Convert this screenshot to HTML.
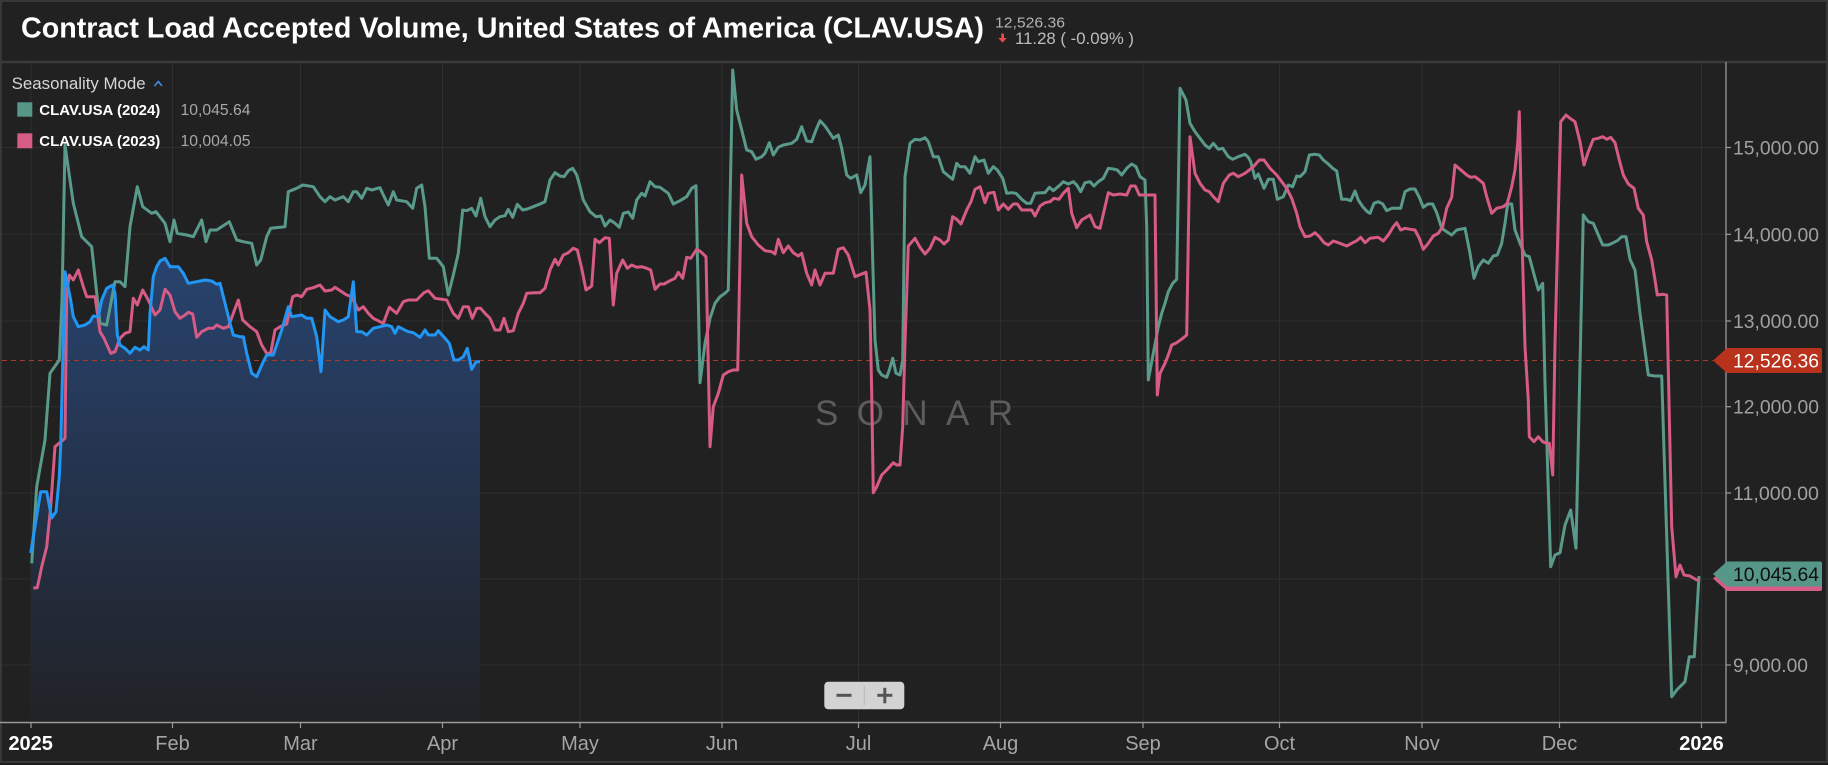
<!DOCTYPE html>
<html>
<head>
<meta charset="utf-8">
<style>
  html, body { margin:0; padding:0; background:#1c1c1c; }
  body { width:1828px; height:765px; overflow:hidden; }
  svg { display:block; }
  text { font-family: "Liberation Sans", "DejaVu Sans", sans-serif; }
</style>
</head>
<body>
<svg width="1828" height="765" viewBox="0 0 1828 765" xmlns="http://www.w3.org/2000/svg">
  <defs>
    <linearGradient id="bf" gradientUnits="userSpaceOnUse" x1="0" y1="250" x2="0" y2="722">
      <stop offset="0" stop-color="#284470"/>
      <stop offset="1" stop-color="#212226"/>
    </linearGradient>
  </defs>

  <!-- background / frame -->
  <rect x="0" y="0" width="1828" height="765" fill="#1c1c1c"/>
  <rect x="1" y="1" width="1826" height="761" fill="#212121" stroke="#383838" stroke-width="2"/>
  <line x1="1" y1="62" x2="1827" y2="62" stroke="#3a3a3a" stroke-width="2.5"/>

  <!-- header -->
  <text x="21" y="37.5" font-size="28.5" font-weight="bold" fill="#ffffff" textLength="963" lengthAdjust="spacingAndGlyphs">Contract Load Accepted Volume, United States of America (CLAV.USA)</text>
  <text x="995" y="27.5" font-size="15" fill="#b3b3b3" textLength="70" lengthAdjust="spacingAndGlyphs">12,526.36</text>
  <rect x="1001.2" y="33.5" width="2.8" height="5" fill="#e5484d"/>
  <polygon points="998.3,38 1006.7,38 1002.6,42.8" fill="#e5484d"/>
  <text x="1015" y="44" font-size="16.5" fill="#bdbdbd" textLength="119" lengthAdjust="spacingAndGlyphs">11.28 ( -0.09% )</text>

  <!-- grid -->
  <g stroke="#2f2f2f" stroke-width="1">
    <line x1="2" y1="147.5" x2="1726" y2="147.5"/>
    <line x1="2" y1="234.3" x2="1726" y2="234.3"/>
    <line x1="2" y1="321" x2="1726" y2="321"/>
    <line x1="2" y1="406.7" x2="1726" y2="406.7"/>
    <line x1="2" y1="493" x2="1726" y2="493"/>
    <line x1="2" y1="579" x2="1726" y2="579"/>
    <line x1="2" y1="665" x2="1726" y2="665"/>
    <line x1="31" y1="63" x2="31" y2="722"/>
    <line x1="172.5" y1="63" x2="172.5" y2="722"/>
    <line x1="300.5" y1="63" x2="300.5" y2="722"/>
    <line x1="442.5" y1="63" x2="442.5" y2="722"/>
    <line x1="580" y1="63" x2="580" y2="722"/>
    <line x1="722" y1="63" x2="722" y2="722"/>
    <line x1="858.5" y1="63" x2="858.5" y2="722"/>
    <line x1="1000.5" y1="63" x2="1000.5" y2="722"/>
    <line x1="1143" y1="63" x2="1143" y2="722"/>
    <line x1="1279.5" y1="63" x2="1279.5" y2="722"/>
    <line x1="1422" y1="63" x2="1422" y2="722"/>
    <line x1="1559.5" y1="63" x2="1559.5" y2="722"/>
    <line x1="1701.5" y1="63" x2="1701.5" y2="722"/>
  </g>

  <!-- watermark -->
  <text x="815" y="425" font-size="35" fill="#5c5c5c" textLength="198" lengthAdjust="spacing">SONAR</text>

  <!-- blue area -->
  <polygon fill="url(#bf)" points="30.7,722 30.7,553 40.7,491.7 46.7,491.7 51.7,518 56,511.7 59.3,476.7 60.7,445 65,271.7 70.7,300 73.3,316.7 78.3,326.7 85,325 90,321.7 93.3,316 98.3,316.7 101.7,300 106.7,288.3 112.7,285 115,293.3 117.3,335 120,345 125,348.3 130,353.3 135,347.3 140,350 144,346.7 148.3,350 150,313.3 153.3,276.7 156.7,266.7 160,261 165,258.3 170,266.7 178.3,266.7 183.3,273.3 188.3,283.3 196.7,281.7 205,280 211.7,281 216.7,284.3 220,283.3 225,303.3 230,323.3 233.3,335 240,336.7 243.3,336.7 246.7,353.3 251.7,373.3 256.7,376.7 263.3,361.7 266.7,355 273.3,355 281.7,330 288.3,306.7 291.7,316.7 301.7,315 306.7,318.3 311.7,318.3 316.7,336.7 321,371.7 325,310 330,316.7 338.3,321.7 343.3,320 348.3,316.7 353.3,281.7 356.7,331.7 361.7,331.7 366.7,335 373.3,328.3 380,326.7 386.7,325 391.7,326.7 395,333.3 398.3,326.7 403.3,329.3 408.3,331.7 413.3,332.7 420,337.3 425,330 428.3,335 435,335 438.3,330.7 445,338.3 449.3,343.3 454,360 458.3,360 463.3,356.7 467.3,348.3 471.7,369.3 476,361.7 480,361.7 480,722"/>

  <!-- dashed last value line -->
  <line x1="2" y1="360.5" x2="1713" y2="360.5" stroke="#a83a2a" stroke-width="1" stroke-dasharray="5,4"/>

  <!-- green 2024 -->
  <polyline fill="none" stroke="#5a9a8b" stroke-width="3" stroke-linejoin="round" points="31.7,563.3 36.7,486.7 45,440 50,373.3 59.3,360 62,300 65,145 73.3,203.3 81.7,236.7 91.7,246.7 100,323.3 106.7,325 115,281.7 120,281.7 125,286.7 130,226.7 137.3,186.7 142.7,206.7 151.7,213.3 156,211.7 165,223.3 170,241.7 174,220 177.3,233.3 186.7,235 193.3,236.7 201.7,220 206,241.7 210,230 216.7,230 229.3,221.7 236.7,240 243.3,241.7 251.7,243.3 256.7,265 260.7,260 266.7,236.7 270.7,228.3 285,226.7 288.3,191.7 296.7,188.3 302.7,185 313.3,186.7 320,196.7 325,201.7 330,196.7 335,200 343.3,196.7 348.3,201.7 353.3,191.7 356.7,191.7 361.7,198.3 366.7,188.3 371.7,190 380,187.7 383.3,195 388.3,205 393.3,191.7 396.7,200 406.7,201.7 412.7,208.3 416.7,188.3 421.7,185 425,206.7 429.3,258.3 436.7,258.3 443.3,266.7 448.3,295 453.3,275 458.3,253.3 462.7,210 466.7,210.7 471.7,208.3 476,216 480.7,198.3 485,216.7 490,226.7 495,220 500,216.7 505,215.7 508.3,209.3 512.7,217.3 517.3,204.3 522.7,210 527.3,209 533.3,206.7 540,204 545,201.7 550,180 555,172.7 560,176 564,176.7 568.3,170.7 572.7,168.3 576.7,175 580,186.7 583.3,200 590,211.7 596,216.7 601,216 605,226 610,220 615,223.3 619.3,227.3 623.3,213.3 628.3,212 632.7,218.3 636.7,200 641.7,193.3 645,196 650,181.7 655,186.7 660,187.3 668.3,193.3 673.3,204 680,200.7 686.7,196.7 691.7,188.3 696,185.7 700,382.7 705,343.3 710,318.3 715,303.3 720,296.7 725,293.3 728.3,290 732.7,70 736.7,110 741.7,130 746.7,150 751.7,151.7 756,159.3 761.7,156.7 765,153.3 769.3,142.7 773.3,155 778.3,147.3 783.3,145 791.7,143.3 796.7,139.3 801.7,126.7 806.7,141 811.7,141.7 816,130 820,120.7 825,126 830,133.3 833.3,138.3 838.3,135 841.7,148.3 846.7,175 850.7,178.3 856.7,175 860.7,192.7 865,185 867.3,171.7 870,156.7 872.7,260 875,340 878.3,370 881.7,375 886.7,377.3 889.3,370 892.7,358.3 896,373.3 900,375 902.7,360 905,176.7 910,143.3 915,139.3 920,140 925,137.7 928.3,141.7 933.3,156.7 938.3,156.7 943.3,171.7 947.3,175 952.7,179.3 956.7,163.3 960,166.7 965,166.7 970,173.3 975,156.7 978.3,161.7 984,160 988.3,173.3 993.3,166.7 997.3,170 1002.7,178.3 1006.7,193.3 1011.7,192.7 1016,193.3 1021.7,199.3 1026.7,203.3 1030.7,203.3 1035,193.3 1041.7,192.7 1045,192.7 1049.3,187.3 1053.3,190.7 1060,185 1063.3,181.7 1068.3,184 1073.3,181.7 1076.7,185 1080.7,191.7 1085,182.7 1090,181.7 1094,186 1098.3,181.7 1103.3,178.3 1108.3,168.3 1113.3,169 1117.3,170 1121.7,175 1126.7,168.3 1131.7,164 1136,166.7 1140,176.7 1145,180 1146.7,226.7 1148.3,380 1153.3,353.3 1158.3,326.7 1161.7,313.3 1165,303.3 1168.3,291.7 1172.7,283.3 1176.7,279.3 1180,88.3 1186,100 1190,123.3 1195,131.7 1200,138.3 1205,145 1209.3,148.3 1213.3,143.3 1218.3,149.3 1222.7,148.3 1228.3,156.7 1232.7,159.3 1238.3,156.7 1245,154.3 1248.3,157.3 1250.7,161.7 1255,178.3 1258.3,174 1264,188.3 1268.3,179.3 1273.3,179.3 1277.3,199.3 1283.3,196.7 1288.3,185 1292.7,186.7 1296.7,176 1300,176.7 1305,171.7 1309.3,155 1315,154.3 1319.3,155 1323.3,160 1328.3,164 1332.7,168.3 1336.7,171 1340,190 1341.7,199.3 1346.7,199.3 1350.7,200.7 1355,191 1358.3,200 1362.7,206.7 1367.3,211.7 1370,213.3 1374,203.3 1378.3,201.7 1382.7,204 1386.7,210.7 1391.7,208.3 1400.7,208.3 1405,191.7 1410,189 1415,189 1419.3,197.3 1423.3,207.3 1427.7,204 1432.7,204 1436.7,212.7 1441.7,228.3 1446.7,231.7 1451.7,235 1456.7,230 1465,228.3 1470,253.3 1474,278.3 1478.3,266.7 1483.3,260 1488.3,263.3 1493.3,256 1497.3,255 1501.7,243.3 1505,223.3 1507.7,204 1511.7,204 1515,230 1520,243.3 1525,255 1529.3,256.7 1533.3,271.7 1538.3,290 1542.7,283.3 1545,383.3 1550.7,566.7 1555,555 1560,552.7 1565,525 1570.7,510 1576,548.3 1583.3,215 1588.3,221.7 1593.3,223.3 1598.3,235 1602.7,245 1608.3,245 1613.3,242.7 1617.3,240.7 1621.7,236.7 1626,236.7 1630,259.3 1635,270 1640,313.3 1648.3,375 1655,376 1661.7,376 1671.7,696.7 1676.7,690 1685,681.7 1689.3,656.7 1694.3,656.7 1699,576"/>

  <!-- pink 2023 -->
  <polyline fill="none" stroke="#d65b85" stroke-width="3" stroke-linejoin="round" points="33.3,588 37.3,587.7 41.7,566.7 46.7,546.7 50.7,506.7 55,446.7 65,438.3 66.7,293.3 69.3,275 73.3,280 78.3,270 83.3,286.7 86.7,296.7 95,296.7 100,331.7 104,338.3 110.7,353.3 115,351.7 120,338.3 125,333.3 130,331.7 133.3,298.3 137.3,305 142.7,290 148.3,300 155,315 160,310 165,289.3 170,295 175,311.7 180,318.3 185,315 188.3,312.3 192.7,314 196.7,337.3 201.7,331.7 208.3,328.3 213.3,328.3 216.7,325 223.3,328.3 228.3,326.7 238.3,300 242.7,320 250,326.7 256.7,331.7 261.7,345 266.7,353.3 270.7,353.3 275,330 280,326.7 286.7,324 292.7,296.7 296.7,295 301.7,296.7 306.7,289.3 313.3,287.7 320,285 325,291 331.7,290 335,287.3 341.7,291.7 346.7,295 351.7,296.7 358.3,310 363.3,306.7 368.3,313.3 373.3,318.3 383.3,323.3 389.3,307.3 396.7,313.3 403.3,301.7 408.3,300 416.7,300 424,292.7 428.3,290.7 435,298.3 446.7,300 453.3,313.3 458.3,318.3 463.3,306.7 468.3,306.7 472.3,318.3 476.7,308.3 480.7,308.3 485,313.3 490,318.3 495,330 500,330 504,318.3 508.3,331.7 513.3,330.7 518.3,313.3 523.3,303.3 526.7,293.3 535,292.7 540,292.7 545,288.3 550,270 555,259.3 558.3,265 563.3,255 568.3,252.7 573.3,248.3 577.3,250 581.7,268.3 586,290 591.7,286 595,239.3 599.3,242.7 605,237.7 609.3,238.3 613.3,305 616.7,273.3 622.7,260 627.3,268.3 631.7,265 636.7,267.3 641.7,266.7 646.7,268.3 650.7,270 655,289.3 660,284 664,284 670,280.7 675,278.3 678.3,272.3 682.7,278.3 686.7,257.3 690.7,258.3 696.7,249.3 700.7,251.7 706,256.7 710,446.7 713.3,406.7 718.3,393.3 723.3,375 728.3,371.7 733.3,370 737.7,370 741.7,175 746.7,223.3 751.7,236.7 758.3,245 765,250.7 771.7,251.7 775,254 778.3,239.3 783.3,252.7 788.3,246 793.3,252.7 798.3,256 801.7,253.3 806.7,273.3 811.7,285 815,270 820,285 825,273.3 833.3,273.3 838.3,249.3 843.3,247.7 848.3,255 855,276.7 866,272.3 870,310 871.7,393.3 873.3,492.7 876.7,486.7 881.7,475 886.7,470 893.3,462.7 896.7,465 900,465 902.7,426.7 905,343.3 908.3,246 915,238.3 920,247.3 925,254 930,248.3 935,237.3 940,240 944,244 948.3,240 952.7,216.7 956.7,219.3 961,224 966.7,210 971,201.7 975,189.3 980,186.7 985,202.7 988.3,193.3 994,192.3 998.3,210 1003.3,204 1008.3,209.3 1013.3,204 1017.3,204 1021.7,210 1031.7,210 1035,216 1040,206 1045,202.7 1050,201.7 1054,198.3 1059,199.3 1063.3,193.3 1068.3,188.3 1071.7,213.3 1076.7,227.7 1081.7,220 1090,215 1095,226.7 1100,228.3 1108.3,192.7 1113.3,195 1120,194 1126.7,195 1130.7,186 1135.3,186 1139.3,195 1155,195 1157.3,395 1160,373.3 1165,363.3 1168.3,355 1171.7,345 1176.7,342.7 1182.7,338.3 1186.7,335 1190,136.7 1195,173.3 1200,183.3 1205,190 1209.3,191.7 1213.3,196.7 1218.3,201.7 1223.3,183.3 1229.3,175 1233.3,173.3 1238.3,176.7 1245,173.3 1249.3,170 1253.3,166.7 1259.3,160 1264,160 1270,168.3 1276.7,175 1281.7,181.7 1286.7,188.3 1291.7,198.3 1296.7,213.3 1300,226.7 1305,236.7 1310,236 1315,232.7 1319.3,236.7 1324,242.7 1328.3,245 1333.3,241 1338.3,242.7 1346.7,246 1351.7,243.3 1356.7,240.7 1360.7,237.3 1365,242.7 1370,238.3 1378.3,237.3 1383.3,241 1388.3,235 1393.3,226.7 1396.7,222.7 1400.7,230 1405,228.3 1410,229.3 1415,230 1419.3,238.3 1423.3,249.3 1428.3,243.3 1433.3,236 1438.3,233.3 1442.7,226.7 1446.7,208.3 1451.7,197.3 1455,165 1461.7,170.7 1466.7,175 1470.7,177.3 1475,176.7 1479.3,180 1483.3,183.3 1486.7,196.7 1491.7,213.3 1496.7,208.3 1503.3,206.7 1507.3,203.3 1511.7,186.7 1515,170 1517.7,143.3 1519.3,111.7 1521.7,226.7 1525,346.7 1528.3,400 1529.3,436.7 1534,441.7 1538.3,436.7 1542.7,441.7 1546.7,443.3 1549.3,443.3 1552.7,475 1555,343.3 1560.7,121.7 1566,115 1570,118.3 1575,121.7 1580,141.7 1584,165 1588.3,151.7 1593.3,139.3 1598.3,138.3 1602.7,136.7 1606.7,139.3 1610.7,137.3 1615,142.7 1619.3,160 1623.3,175 1628.3,184 1634,188.3 1638.3,208.3 1643.3,215 1646.7,241.7 1651.7,260 1655,280 1657.3,295 1662.7,294.3 1666.7,295 1671.7,526.7 1676,576.7 1680,565 1684,575 1690,576 1696.7,580 1699,579.3"/>

  <!-- blue 2025 -->
  <polyline fill="none" stroke="#2196f3" stroke-width="3" stroke-linejoin="round" points="30.7,553 40.7,491.7 46.7,491.7 51.7,518 56,511.7 59.3,476.7 60.7,445 65,271.7 70.7,300 73.3,316.7 78.3,326.7 85,325 90,321.7 93.3,316 98.3,316.7 101.7,300 106.7,288.3 112.7,285 115,293.3 117.3,335 120,345 125,348.3 130,353.3 135,347.3 140,350 144,346.7 148.3,350 150,313.3 153.3,276.7 156.7,266.7 160,261 165,258.3 170,266.7 178.3,266.7 183.3,273.3 188.3,283.3 196.7,281.7 205,280 211.7,281 216.7,284.3 220,283.3 225,303.3 230,323.3 233.3,335 240,336.7 243.3,336.7 246.7,353.3 251.7,373.3 256.7,376.7 263.3,361.7 266.7,355 273.3,355 281.7,330 288.3,306.7 291.7,316.7 301.7,315 306.7,318.3 311.7,318.3 316.7,336.7 321,371.7 325,310 330,316.7 338.3,321.7 343.3,320 348.3,316.7 353.3,281.7 356.7,331.7 361.7,331.7 366.7,335 373.3,328.3 380,326.7 386.7,325 391.7,326.7 395,333.3 398.3,326.7 403.3,329.3 408.3,331.7 413.3,332.7 420,337.3 425,330 428.3,335 435,335 438.3,330.7 445,338.3 449.3,343.3 454,360 458.3,360 463.3,356.7 467.3,348.3 471.7,369.3 476,361.7 480,361.7"/>

  <!-- axes -->
  <line x1="0" y1="722.5" x2="1726.5" y2="722.5" stroke="#9a9a9a" stroke-width="1.5"/>
  <line x1="1726" y1="62" x2="1726" y2="722.5" stroke="#8a8a8a" stroke-width="1.5"/>
  <g stroke="#9a9a9a" stroke-width="1.2">
    <line x1="31" y1="722.5" x2="31" y2="728"/>
    <line x1="172.5" y1="722.5" x2="172.5" y2="728"/>
    <line x1="300.5" y1="722.5" x2="300.5" y2="728"/>
    <line x1="442.5" y1="722.5" x2="442.5" y2="728"/>
    <line x1="580" y1="722.5" x2="580" y2="728"/>
    <line x1="722" y1="722.5" x2="722" y2="728"/>
    <line x1="858.5" y1="722.5" x2="858.5" y2="728"/>
    <line x1="1000.5" y1="722.5" x2="1000.5" y2="728"/>
    <line x1="1143" y1="722.5" x2="1143" y2="728"/>
    <line x1="1279.5" y1="722.5" x2="1279.5" y2="728"/>
    <line x1="1422" y1="722.5" x2="1422" y2="728"/>
    <line x1="1559.5" y1="722.5" x2="1559.5" y2="728"/>
    <line x1="1701.5" y1="722.5" x2="1701.5" y2="728"/>
    <line x1="1726" y1="147.5" x2="1731" y2="147.5"/>
    <line x1="1726" y1="234.3" x2="1731" y2="234.3"/>
    <line x1="1726" y1="321" x2="1731" y2="321"/>
    <line x1="1726" y1="406.7" x2="1731" y2="406.7"/>
    <line x1="1726" y1="493" x2="1731" y2="493"/>
    <line x1="1726" y1="579" x2="1731" y2="579"/>
    <line x1="1726" y1="665" x2="1731" y2="665"/>
  </g>

  <!-- y labels -->
  <g font-size="19.5" fill="#a0a0a0">
    <text x="1733" y="154.5" textLength="86" lengthAdjust="spacingAndGlyphs">15,000.00</text>
    <text x="1733" y="241.3" textLength="86" lengthAdjust="spacingAndGlyphs">14,000.00</text>
    <text x="1733" y="328" textLength="86" lengthAdjust="spacingAndGlyphs">13,000.00</text>
    <text x="1733" y="413.7" textLength="86" lengthAdjust="spacingAndGlyphs">12,000.00</text>
    <text x="1733" y="500" textLength="86" lengthAdjust="spacingAndGlyphs">11,000.00</text>
    <text x="1733" y="672" textLength="75" lengthAdjust="spacingAndGlyphs">9,000.00</text>
  </g>

  <!-- value tags -->
  <path d="M1713,360.5 L1727,348 L1820,348 Q1822,348 1822,350 L1822,371 Q1822,373 1820,373 L1727,373 Z" fill="#b9321b"/>
  <text x="1733" y="367.5" font-size="19.5" fill="#ffffff" textLength="86" lengthAdjust="spacingAndGlyphs">12,526.36</text>
  <path d="M1713,578.5 L1727,566 L1820,566 Q1822,566 1822,568 L1822,589 Q1822,591 1820,591 L1727,591 Z" fill="#d65b85"/>
  <path d="M1713,574 L1727,561.5 L1820,561.5 Q1822,561.5 1822,563.5 L1822,584.5 Q1822,586.5 1820,586.5 L1727,586.5 Z" fill="#56978a"/>
  <text x="1733" y="581" font-size="19.5" fill="#0e0e0e" textLength="86" lengthAdjust="spacingAndGlyphs">10,045.64</text>

  <!-- x labels -->
  <g font-size="20" fill="#a5a5a5" text-anchor="middle">
    <text x="30.7" y="750" font-weight="bold" fill="#ffffff">2025</text>
    <text x="172.5" y="750">Feb</text>
    <text x="300.5" y="750">Mar</text>
    <text x="442.5" y="750">Apr</text>
    <text x="580" y="750">May</text>
    <text x="722" y="750">Jun</text>
    <text x="858.5" y="750">Jul</text>
    <text x="1000.5" y="750">Aug</text>
    <text x="1143" y="750">Sep</text>
    <text x="1279.5" y="750">Oct</text>
    <text x="1422" y="750">Nov</text>
    <text x="1559.5" y="750">Dec</text>
    <text x="1701.5" y="750" font-weight="bold" fill="#ffffff">2026</text>
  </g>

  <!-- zoom buttons -->
  <rect x="824.3" y="681.7" width="80" height="27.6" rx="4" fill="#d3d3d3"/>
  <line x1="864.3" y1="686" x2="864.3" y2="705" stroke="#b8b8b8" stroke-width="1"/>
  <rect x="836.5" y="693.8" width="15" height="3" fill="#555555"/>
  <rect x="877.3" y="693.8" width="15" height="3" fill="#555555"/>
  <rect x="883.3" y="687.8" width="3" height="15.5" fill="#555555"/>

  <!-- legend -->
  <text x="11.7" y="89" font-size="16.5" fill="#d6d6d6" textLength="134" lengthAdjust="spacingAndGlyphs">Seasonality Mode</text>
  <polyline points="154.5,86 158.3,81.5 162,86" fill="none" stroke="#3d8fe6" stroke-width="1.6"/>
  <rect x="17.3" y="102.3" width="15" height="14.4" fill="#56978a"/>
  <text x="39.3" y="115" font-size="15" font-weight="bold" fill="#ffffff" textLength="121" lengthAdjust="spacingAndGlyphs">CLAV.USA (2024)</text>
  <text x="180.5" y="115" font-size="15.5" fill="#a8a8a8" textLength="70" lengthAdjust="spacingAndGlyphs">10,045.64</text>
  <rect x="17.3" y="133.3" width="15" height="15" fill="#d65b85"/>
  <text x="39.3" y="146" font-size="15" font-weight="bold" fill="#ffffff" textLength="121" lengthAdjust="spacingAndGlyphs">CLAV.USA (2023)</text>
  <text x="180.5" y="146" font-size="15.5" fill="#a8a8a8" textLength="70" lengthAdjust="spacingAndGlyphs">10,004.05</text>
</svg>
</body>
</html>
